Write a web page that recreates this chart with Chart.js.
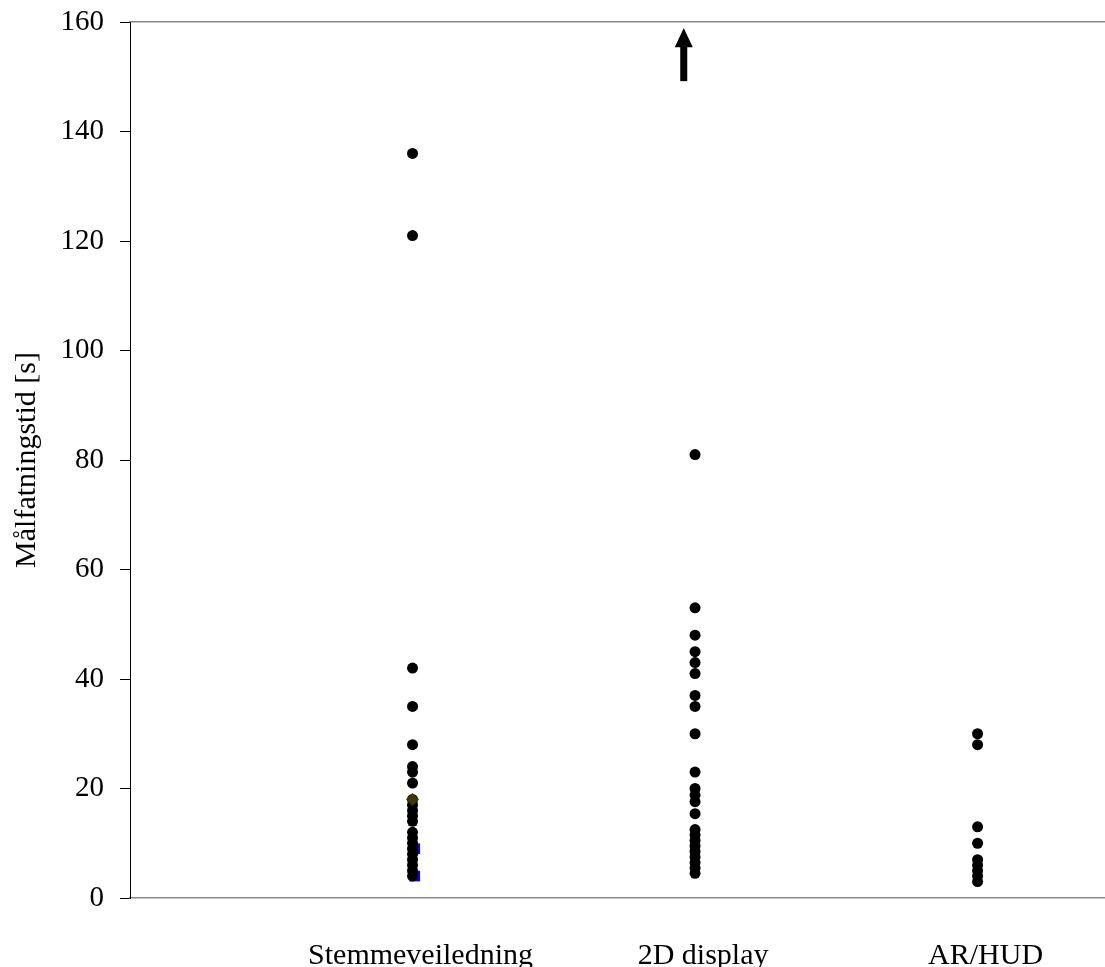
<!DOCTYPE html>
<html>
<head>
<meta charset="utf-8">
<script src="https://cdn.jsdelivr.net/npm/chart.js@4.4.1/dist/chart.umd.min.js"></script>
<style>
  html, body { margin: 0; padding: 0; background: #fff; }
  #wrap { width: 1105px; height: 967px; }
</style>
</head>
<body>
<div id="wrap"><canvas id="myChart" width="1105" height="967"></canvas></div>
<script>
'use strict';

let categories = ['Stemmeveiledning', '2D display', 'AR/HUD'];
let categoryX = [1, 2, 3];
let yTicks = [0, 20, 40, 60, 80, 100, 120, 140, 160];

// målte tider [s] per gruppe
let stemmeTimes = [136, 121, 42, 35, 28, 24, 23, 21, 18, 17, 16, 15, 14, 12, 11, 10, 9, 8, 7, 6, 5, 4];
let displayTimes = [81, 53, 48, 45, 43, 41, 37, 35, 30, 23, 20, 18.8, 17.6, 15.4, 12.5, 11.5, 10.5, 9.5, 8.5, 7.5, 6.5, 5.5, 4.5];
let arHudTimes = [30, 28, 13, 10, 7, 6, 5, 4, 3];

// serier som nesten skjules bak de svarte punktene
let diamondTimes = [18];
let squareTimes = [9, 4];
let crossStemme = [14, 8];
let crossDisplay = [10];

// pil for verdi utenfor skala (2D display)
let arrowX = 1.96;
let arrowFrom = 149.2;
let arrowHeadBase = 155.4;
let arrowTo = 158.9;

function toPoints(x, values) {
  return values.map(v => ({ x: x, y: v }));
}

let blackPoints = toPoints(categoryX[0], stemmeTimes)
  .concat(toPoints(categoryX[1], displayTimes))
  .concat(toPoints(categoryX[2], arHudTimes));

let serif = "'Liberation Serif', 'Times New Roman', serif";

function noPadding(s) {
  s.paddingLeft = 0;
  s.paddingRight = 0;
  s.paddingTop = 0;
  s.paddingBottom = 0;
}

let arrowPlugin = {
  id: 'arrowPlugin',
  afterDatasetsDraw(chart) {
    let ctx = chart.ctx;
    let x = chart.scales.x.getPixelForValue(arrowX);
    let yBottom = chart.scales.y.getPixelForValue(arrowFrom);
    let yBase = chart.scales.y.getPixelForValue(arrowHeadBase);
    let yTip = chart.scales.y.getPixelForValue(arrowTo);
    ctx.save();
    ctx.fillStyle = '#000';
    ctx.fillRect(x - 3.5, yBase - 1, 7, yBottom - yBase + 1);
    ctx.beginPath();
    ctx.moveTo(x, yTip);
    ctx.lineTo(x + 9, yBase);
    ctx.lineTo(x - 9, yBase);
    ctx.closePath();
    ctx.fill();
    ctx.restore();
  }
};

let ctx = document.getElementById('myChart');

new Chart(ctx, {
  type: 'scatter',
  data: {
    datasets: [
      {
        label: 'diamond',
        data: toPoints(categoryX[0], diamondTimes),
        pointStyle: 'rectRot',
        pointRadius: 6.5,
        borderWidth: 0,
        backgroundColor: '#3a3a00'
      },
      {
        label: 'tid',
        data: blackPoints,
        pointRadius: 5.5,
        borderWidth: 0,
        backgroundColor: '#000'
      },
      {
        label: 'square',
        data: toPoints(categoryX[0] + 0.008, squareTimes),
        pointStyle: 'rect',
        pointRadius: 7.5,
        borderWidth: 0,
        backgroundColor: '#0000ff'
      },
      {
        label: 'cross',
        data: toPoints(categoryX[0], crossStemme).concat(toPoints(categoryX[1], crossDisplay)),
        pointStyle: 'crossRot',
        pointRadius: 6.5,
        borderWidth: 1,
        borderColor: '#ff00ff',
        backgroundColor: '#ff00ff'
      }
    ]
  },
  options: {
    responsive: false,
    animation: false,
    devicePixelRatio: 1,
    layout: { padding: 0, autoPadding: false },
    plugins: {
      legend: { display: false },
      tooltip: { enabled: false }
    },
    scales: {
      x: {
        type: 'linear',
        position: 'bottom',
        min: 0,
        max: 3.451,
        afterBuildTicks: s => { s.ticks = categoryX.map(v => ({ value: v })); },
        afterFit: s => { s.height = 69; noPadding(s); },
        ticks: {
          callback: (v, i) => categories[i],
          autoSkip: false,
          maxRotation: 0,
          padding: 40,
          labelOffset: 8,
          color: '#000',
          font: { family: serif, size: 30 }
        },
        grid: { display: false, drawTicks: false },
        border: { color: '#888', width: 1.5 }
      },
      x2: {
        type: 'linear',
        position: 'top',
        min: 0,
        max: 3.451,
        afterFit: s => { s.height = 22; noPadding(s); },
        ticks: { display: false },
        grid: { display: false, drawTicks: false },
        border: { color: '#888', width: 1.5 }
      },
      y: {
        type: 'linear',
        min: 0,
        max: 160,
        afterBuildTicks: s => { s.ticks = yTicks.map(v => ({ value: v })); },
        afterFit: s => { s.width = 130; noPadding(s); },
        ticks: {
          padding: 16,
          color: '#000',
          font: { family: serif, size: 29 }
        },
        grid: {
          drawOnChartArea: false,
          drawTicks: true,
          tickLength: 10,
          color: '#000',
          lineWidth: 1
        },
        border: { color: '#000', width: 1 },
        title: {
          display: true,
          text: 'Målfatningstid [s]',
          color: '#000',
          font: { family: serif, size: 30 },
          padding: { top: 9, bottom: 0 }
        }
      }
    }
  },
  plugins: [arrowPlugin]
});
</script>
</body>
</html>
